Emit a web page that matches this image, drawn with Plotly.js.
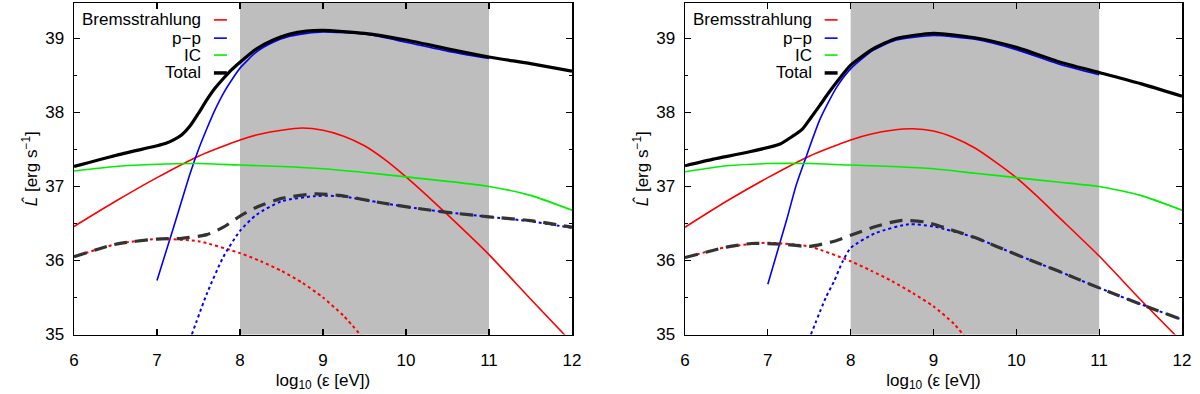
<!DOCTYPE html>
<html>
<head>
<meta charset="utf-8">
<script src="https://cdn.plot.ly/plotly-3.0.1.min.js"></script>
<style>
  html, body { margin: 0; padding: 0; background: #fff; }
  #plot { width: 1200px; height: 394px; }
</style>
</head>
<body>
<div id="plot"></div>
<script>
// ---- data: log10 L (erg/s) against log10 eps (eV) ----
var bandX = [8, 11];   // shaded energy window

// left panel
var bremX_L = [6, 6.5, 7, 7.5, 8, 8.25, 8.5, 8.75, 9, 9.25, 9.5, 9.75, 10, 10.25, 10.5, 11, 11.5, 12];
var bremY_L = [36.46, 36.8, 37.12, 37.41, 37.63, 37.71, 37.76, 37.79, 37.76, 37.68, 37.55, 37.36, 37.13, 36.88, 36.62, 36.08, 35.48, 34.89];
var ppX_L = [7, 7.2, 7.4, 7.5, 7.6, 7.7, 7.8, 7.9, 8, 8.2, 8.4, 8.6, 8.8, 9, 9.5, 10, 10.5, 11];
var ppY_L = [35.73, 36.45, 37.18, 37.5, 37.78, 38.04, 38.26, 38.44, 38.6, 38.82, 38.95, 39.03, 39.07, 39.09, 39.06, 38.95, 38.83, 38.73];
var icX_L = [6, 6.5, 7, 7.5, 8, 8.5, 9, 9.5, 10, 10.5, 11, 11.5, 12];
var icY_L = [37.21, 37.27, 37.3, 37.31, 37.29, 37.27, 37.24, 37.19, 37.13, 37.07, 37.0, 36.88, 36.68];
var totX_L = [6, 6.5, 7, 7.1, 7.2, 7.3, 7.4, 7.5, 7.6, 7.7, 7.8, 7.9, 8, 8.2, 8.4, 8.6, 8.8, 9, 9.5, 10, 10.5, 11, 11.5, 12];
var totY_L = [37.27, 37.42, 37.55, 37.58, 37.63, 37.7, 37.82, 37.99, 38.17, 38.33, 38.46, 38.58, 38.68, 38.86, 38.98, 39.06, 39.1, 39.11, 39.07, 38.98, 38.86, 38.75, 38.66, 38.56];
var brem2X_L = [6, 6.5, 7, 7.5, 8, 8.25, 8.5, 8.75, 9, 9.25, 9.5];
var brem2Y_L = [36.05, 36.22, 36.29, 36.26, 36.1, 35.99, 35.86, 35.7, 35.5, 35.25, 34.93];
var pp2X_L = [7.42, 7.6, 7.8, 8, 8.2, 8.5, 8.9, 9.2, 9.7, 10.1, 10.5, 11, 11.5, 12];
var pp2Y_L = [35.0, 35.55, 36.05, 36.4, 36.62, 36.8, 36.87, 36.87, 36.78, 36.71, 36.65, 36.59, 36.53, 36.44];
var tot2X_L = [6, 6.5, 7, 7.3, 7.6, 7.8, 8, 8.2, 8.5, 8.9, 9.2, 9.7, 10.1, 10.5, 11, 11.5, 12];
var tot2Y_L = [36.05, 36.22, 36.29, 36.3, 36.35, 36.45, 36.6, 36.72, 36.84, 36.9, 36.88, 36.78, 36.71, 36.65, 36.59, 36.54, 36.45];

// right panel
var bremX_R = [6, 6.5, 7, 7.5, 8, 8.25, 8.5, 8.75, 9, 9.25, 9.5, 9.75, 10, 10.25, 10.5, 11, 11.5, 12];
var bremY_R = [36.45, 36.8, 37.12, 37.41, 37.63, 37.71, 37.76, 37.78, 37.75, 37.66, 37.52, 37.33, 37.12, 36.87, 36.6, 36.06, 35.47, 34.9];
var ppX_R = [7, 7.23, 7.34, 7.44, 7.63, 7.83, 8, 8.27, 8.55, 9, 9.5, 10, 10.5, 11];
var ppY_R = [35.68, 36.56, 37.01, 37.33, 37.91, 38.34, 38.59, 38.84, 38.98, 39.04, 38.99, 38.85, 38.66, 38.51];
var icX_R = [6, 6.5, 7, 7.5, 8, 8.5, 9, 9.5, 10, 10.5, 11, 11.5, 12];
var icY_R = [37.2, 37.28, 37.31, 37.31, 37.29, 37.27, 37.24, 37.18, 37.12, 37.06, 37.0, 36.88, 36.68];
var totX_R = [6, 6.34, 6.74, 7.14, 7.3, 7.42, 7.52, 7.63, 7.73, 7.83, 8, 8.27, 8.55, 9, 9.5, 10, 10.5, 11, 11.5, 12];
var totY_R = [37.28, 37.37, 37.46, 37.57, 37.68, 37.78, 37.93, 38.1, 38.26, 38.41, 38.64, 38.86, 39.0, 39.07, 39.01, 38.88, 38.69, 38.54, 38.39, 38.22];
var brem2X_R = [6, 6.5, 7, 7.5, 8, 8.25, 8.5, 8.75, 9, 9.25, 9.5];
var brem2Y_R = [36.04, 36.18, 36.24, 36.19, 35.99, 35.86, 35.72, 35.56, 35.38, 35.14, 34.8];
var pp2X_R = [7.52, 7.7, 7.8, 7.9, 8, 8.3, 8.7, 9, 9.5, 10, 10.5, 11, 11.5, 12];
var pp2Y_R = [35.0, 35.5, 35.72, 35.98, 36.17, 36.37, 36.49, 36.46, 36.31, 36.08, 35.86, 35.63, 35.41, 35.2];
var tot2X_R = [6, 6.5, 6.8, 7.2, 7.5, 7.8, 8, 8.3, 8.6, 8.9, 9.2, 9.5, 10, 10.5, 11, 11.5, 12];
var tot2Y_R = [36.04, 36.18, 36.23, 36.22, 36.19, 36.26, 36.34, 36.46, 36.54, 36.52, 36.42, 36.31, 36.08, 35.86, 35.63, 35.41, 35.2];

var legendNames = ['Bremsstrahlung', 'p\u2212p', 'IC', 'Total'];

// ---- styles ----
var RED = '#ff0000', BLUE = '#0000ff', GREEN = '#00ee00', BLACK = '#000000', DASHC = '#333333';
var FONT = 'Liberation Sans, Arial, Helvetica, sans-serif';

function line(x, y, color, width, dash, ax) {
  return {
    x: x, y: y, type: 'scatter', mode: 'lines',
    xaxis: ax[0], yaxis: ax[1], showlegend: false, hoverinfo: 'skip',
    line: { color: color, width: width, dash: dash || 'solid', shape: 'spline', smoothing: 0.6 }
  };
}

function panel(ax, d) {
  return [
    line(d.bremX, d.bremY, RED, 1.6, 'solid', ax),
    line(d.ppX, d.ppY, BLUE, 1.6, 'solid', ax),
    line(d.icX, d.icY, GREEN, 1.6, 'solid', ax),
    line(d.totX, d.totY, BLACK, 3.2, 'solid', ax),
    line(d.brem2X, d.brem2Y, RED, 2, 'dot', ax),
    line(d.pp2X, d.pp2Y, BLUE, 2, 'dot', ax),
    line(d.tot2X, d.tot2Y, DASHC, 3.2, '13px,8px', ax)
  ];
}

var data = panel(['x', 'y'], {
  bremX: bremX_L, bremY: bremY_L, ppX: ppX_L, ppY: ppY_L, icX: icX_L, icY: icY_L,
  totX: totX_L, totY: totY_L, brem2X: brem2X_L, brem2Y: brem2Y_L,
  pp2X: pp2X_L, pp2Y: pp2Y_L, tot2X: tot2X_L, tot2Y: tot2Y_L
}).concat(panel(['x2', 'y2'], {
  bremX: bremX_R, bremY: bremY_R, ppX: ppX_R, ppY: ppY_R, icX: icX_R, icY: icY_R,
  totX: totX_R, totY: totY_R, brem2X: brem2X_R, brem2Y: brem2Y_R,
  pp2X: pp2X_R, pp2Y: pp2Y_R, tot2X: tot2X_R, tot2Y: tot2Y_R
}));

// ---- axes ----
var yDom = [(394 - 334.5) / 394, (394 - 3) / 394];

function xAxis(dom, anchor) {
  return {
    domain: dom, anchor: anchor, range: [6, 12], dtick: 1, tick0: 6,
    showgrid: false, zeroline: false, showline: true, mirror: 'ticks',
    linecolor: '#000', linewidth: 1.5, ticks: 'inside', ticklen: 6, tickwidth: 1.2, tickcolor: '#000',
    ticklabelstandoff: 10,
    tickfont: { family: FONT, size: 17, color: '#000' },
    title: { text: 'log<sub>10</sub> (\u03b5 [eV])', font: { family: FONT, size: 17, color: '#000' }, standoff: 4 }
  };
}
function yAxis(anchor) {
  return {
    domain: yDom, anchor: anchor, range: [35, 39.48], dtick: 1, tick0: 35,
    showgrid: false, zeroline: false, showline: true, mirror: 'ticks',
    linecolor: '#000', linewidth: 1.5, ticks: 'inside', ticklen: 6, tickwidth: 1.2, tickcolor: '#000',
    minor: { dtick: 0.5, ticks: 'inside', ticklen: 3, tickcolor: '#000', showgrid: false },
    ticklabelstandoff: 5,
    tickfont: { family: FONT, size: 17, color: '#000' },
    title: { text: '<i>L\u0302</i> [erg s<sup>\u22121</sup>]', font: { family: FONT, size: 17, color: '#000' }, standoff: 3 }
  };
}

// ---- shaded band and hand-made legend (key text right aligned, sample on the right) ----
var shapes = [], annotations = [];
var legColors = [RED, BLUE, GREEN, BLACK];
var legY = [0.949, 0.894, 0.843, 0.789];
[['x', 'y'], ['x2', 'y2']].forEach(function (ax) {
  shapes.push({
    type: 'rect', xref: ax[0], yref: ax[1] + ' domain', x0: bandX[0], x1: bandX[1], y0: 0, y1: 1,
    fillcolor: '#bebebe', line: { width: 0 }, layer: 'below'
  });
  legendNames.forEach(function (name, i) {
    annotations.push({
      xref: ax[0] + ' domain', yref: ax[1] + ' domain', x: 0.259, y: legY[i],
      xanchor: 'right', yanchor: 'middle', showarrow: false, text: name,
      font: { family: FONT, size: 17, color: '#000' }
    });
    shapes.push({
      type: 'line', xref: ax[0] + ' domain', yref: ax[1] + ' domain',
      x0: 0.281, x1: 0.307, y0: legY[i], y1: legY[i],
      line: { color: legColors[i], width: i === 3 ? 3.5 : 1.6 }
    });
  });
});

var layout = {
  width: 1200, height: 394,
  margin: { l: 0, r: 0, t: 0, b: 0 },
  paper_bgcolor: '#fff', plot_bgcolor: '#fff',
  showlegend: false,
  xaxis: xAxis([74 / 1200, 572 / 1200], 'y'),
  yaxis: yAxis('x'),
  xaxis2: xAxis([685 / 1200, 1182 / 1200], 'y2'),
  yaxis2: yAxis('x2'),
  shapes: shapes,
  annotations: annotations
};

Plotly.newPlot('plot', data, layout, { staticPlot: true });
</script>
</body>
</html>
